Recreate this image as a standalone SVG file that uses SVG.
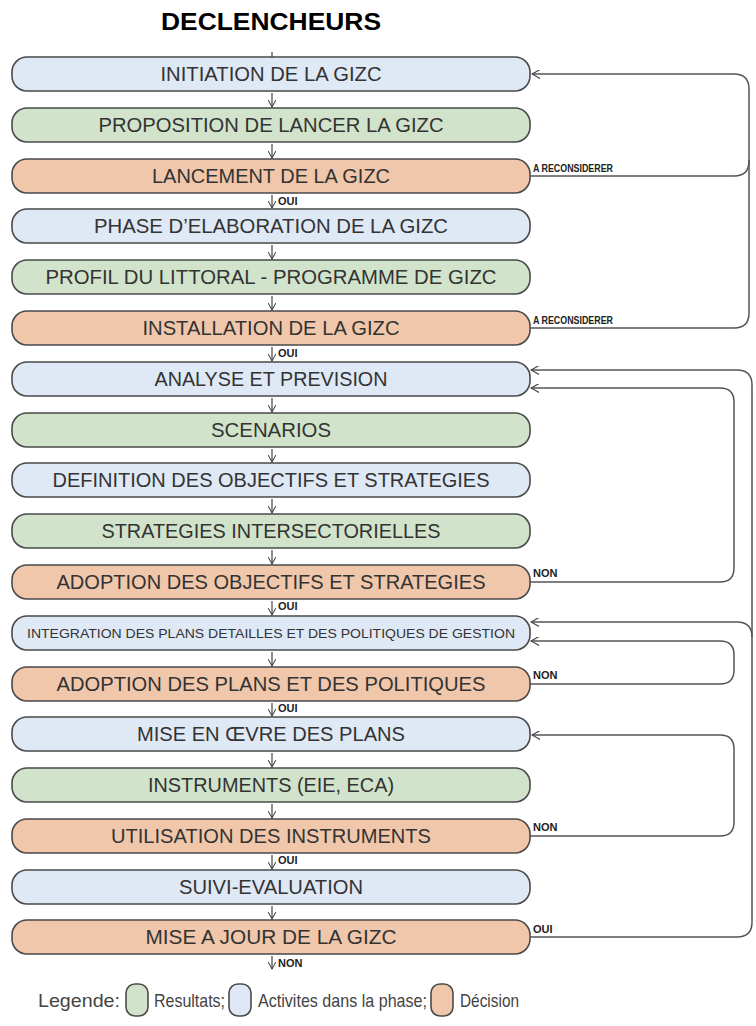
<svg xmlns="http://www.w3.org/2000/svg" width="756" height="1026" viewBox="0 0 756 1026">
<defs>
<style>
.box{stroke:#4a4a4a;stroke-width:1.6}
.act{fill:#dfe8f5}
.res{fill:#d2e3cb}
.dec{fill:#f0c7ab}
.t{font-family:"Liberation Sans Narrow","Liberation Sans",Arial,sans-serif;font-size:20px;fill:#333;text-anchor:middle}
.lbl{font-family:"Liberation Sans Narrow","Liberation Sans",Arial,sans-serif;font-size:11px;font-weight:bold;fill:#222}
.title{font-family:"Liberation Sans",Arial,sans-serif;font-size:23px;font-weight:bold;fill:#000;text-anchor:middle}
.leg{font-family:"Liberation Sans Narrow","Liberation Sans",Arial,sans-serif;font-size:19px;fill:#444}
.conn{fill:none;stroke:#555;stroke-width:1.5}
.down{fill:none;stroke:#444;stroke-width:1.2}
</style>
<marker id="open" viewBox="0 0 10 10" refX="9" refY="5" markerWidth="9" markerHeight="9" orient="auto" markerUnits="userSpaceOnUse">
<path d="M0,0 L9,5 L0,10" fill="none" stroke="#444" stroke-width="1.3"/>
</marker>
<marker id="dn" viewBox="0 0 10 10" refX="9" refY="5" markerWidth="8" markerHeight="8" orient="auto" markerUnits="userSpaceOnUse">
<path d="M0,0 L9,5 L0,10" fill="none" stroke="#444" stroke-width="1.3"/>
</marker>
</defs>
<rect width="756" height="1026" fill="#fff"/>
<text class="title" x="271" y="30" textLength="220" lengthAdjust="spacingAndGlyphs">DECLENCHEURS</text>

<g id="n1"><rect class="box act" x="12" y="57" width="518" height="34" rx="15"/><text class="t" x="271" y="81" textLength="221" lengthAdjust="spacingAndGlyphs">INITIATION DE LA GIZC</text></g>
<g id="n2"><rect class="box res" x="12" y="108" width="518" height="34" rx="15"/><text class="t" x="271" y="132" textLength="345" lengthAdjust="spacingAndGlyphs">PROPOSITION DE LANCER LA GIZC</text></g>
<g id="n3"><rect class="box dec" x="12" y="159" width="518" height="34" rx="15"/><text class="t" x="271" y="183" textLength="238" lengthAdjust="spacingAndGlyphs">LANCEMENT DE LA GIZC</text></g>
<g id="n4"><rect class="box act" x="12" y="209" width="518" height="34" rx="15"/><text class="t" x="271" y="233" textLength="354" lengthAdjust="spacingAndGlyphs">PHASE D’ELABORATION DE LA GIZC</text></g>
<g id="n5"><rect class="box res" x="12" y="260" width="518" height="34" rx="15"/><text class="t" x="271" y="284" textLength="451" lengthAdjust="spacingAndGlyphs">PROFIL DU LITTORAL - PROGRAMME DE GIZC</text></g>
<g id="n6"><rect class="box dec" x="12" y="311" width="518" height="34" rx="15"/><text class="t" x="271" y="335" textLength="257" lengthAdjust="spacingAndGlyphs">INSTALLATION DE LA GIZC</text></g>
<g id="n7"><rect class="box act" x="12" y="362" width="518" height="34" rx="15"/><text class="t" x="271" y="386" textLength="233" lengthAdjust="spacingAndGlyphs">ANALYSE ET PREVISION</text></g>
<g id="n8"><rect class="box res" x="12" y="413" width="518" height="34" rx="15"/><text class="t" x="271" y="437" textLength="120" lengthAdjust="spacingAndGlyphs">SCENARIOS</text></g>
<g id="n9"><rect class="box act" x="12" y="463" width="518" height="34" rx="15"/><text class="t" x="271" y="487" textLength="437" lengthAdjust="spacingAndGlyphs">DEFINITION DES OBJECTIFS ET STRATEGIES</text></g>
<g id="n10"><rect class="box res" x="12" y="514" width="518" height="34" rx="15"/><text class="t" x="271" y="538" textLength="339" lengthAdjust="spacingAndGlyphs">STRATEGIES INTERSECTORIELLES</text></g>
<g id="n11"><rect class="box dec" x="12" y="565" width="518" height="34" rx="15"/><text class="t" x="271" y="589" textLength="429" lengthAdjust="spacingAndGlyphs">ADOPTION DES OBJECTIFS ET STRATEGIES</text></g>
<g id="n12"><rect class="box act" x="12" y="616" width="518" height="34" rx="15"/><text class="t" x="271" y="638" style="font-size:13.5px" textLength="488" lengthAdjust="spacingAndGlyphs">INTEGRATION DES PLANS DETAILLES ET DES POLITIQUES DE GESTION</text></g>
<g id="n13"><rect class="box dec" x="12" y="667" width="518" height="34" rx="15"/><text class="t" x="271" y="691" textLength="429" lengthAdjust="spacingAndGlyphs">ADOPTION DES PLANS ET DES POLITIQUES</text></g>
<g id="n14"><rect class="box act" x="12" y="717" width="518" height="34" rx="15"/><text class="t" x="271" y="741" textLength="268" lengthAdjust="spacingAndGlyphs">MISE EN ŒVRE DES PLANS</text></g>
<g id="n15"><rect class="box res" x="12" y="768" width="518" height="34" rx="15"/><text class="t" x="271" y="792" textLength="246" lengthAdjust="spacingAndGlyphs">INSTRUMENTS (EIE, ECA)</text></g>
<g id="n16"><rect class="box dec" x="12" y="819" width="518" height="34" rx="15"/><text class="t" x="271" y="843" textLength="320" lengthAdjust="spacingAndGlyphs">UTILISATION DES INSTRUMENTS</text></g>
<g id="n17"><rect class="box act" x="12" y="870" width="518" height="34" rx="15"/><text class="t" x="271" y="894" textLength="184" lengthAdjust="spacingAndGlyphs">SUIVI-EVALUATION</text></g>
<g id="n18"><rect class="box dec" x="12" y="920" width="518" height="34" rx="15"/><text class="t" x="271" y="944" textLength="251" lengthAdjust="spacingAndGlyphs">MISE A JOUR DE LA GIZC</text></g>

<g id="connectors">
<path class="down" d="M272,52 V57"/>
<path class="down" d="M272,93 V107" marker-end="url(#dn)"/>
<path class="down" d="M272,144 V158" marker-end="url(#dn)"/>
<path class="down" d="M272,195 V208" marker-end="url(#dn)"/>
<path class="down" d="M272,245 V259" marker-end="url(#dn)"/>
<path class="down" d="M272,296 V310" marker-end="url(#dn)"/>
<path class="down" d="M272,347 V361" marker-end="url(#dn)"/>
<path class="down" d="M272,398 V412" marker-end="url(#dn)"/>
<path class="down" d="M272,449 V462" marker-end="url(#dn)"/>
<path class="down" d="M272,499 V513" marker-end="url(#dn)"/>
<path class="down" d="M272,550 V564" marker-end="url(#dn)"/>
<path class="down" d="M272,601 V615" marker-end="url(#dn)"/>
<path class="down" d="M272,652 V666" marker-end="url(#dn)"/>
<path class="down" d="M272,703 V716" marker-end="url(#dn)"/>
<path class="down" d="M272,753 V767" marker-end="url(#dn)"/>
<path class="down" d="M272,804 V818" marker-end="url(#dn)"/>
<path class="down" d="M272,855 V869" marker-end="url(#dn)"/>
<path class="down" d="M272,906 V919" marker-end="url(#dn)"/>
<path class="down" d="M272,956 V969" marker-end="url(#dn)"/>

<path class="conn" d="M530,176 H734 Q749,176 749,161 V89 Q749,74 734,74 H532" marker-end="url(#open)"/>
<path class="conn" d="M530,328 H734 Q749,328 749,313 V160"/>
<path class="conn" d="M530,937 H737 Q752,937 752,922 V385 Q752,370 737,370 H531" marker-end="url(#open)"/>
<path class="conn" d="M752,637 Q752,622 737,622 H531" marker-end="url(#open)"/>
<path class="conn" d="M530,582 H720 Q734,582 734,568 V402 Q734,388 720,388 H531" marker-end="url(#open)"/>
<path class="conn" d="M530,684 H720 Q734,684 734,670 V655 Q734,641 720,641 H531" marker-end="url(#open)"/>
<path class="conn" d="M530,836 H720 Q734,836 734,822 V749 Q734,735 720,735 H532" marker-end="url(#open)"/>

<text class="lbl" x="533" y="172" textLength="80" lengthAdjust="spacingAndGlyphs">A RECONSIDERER</text>
<text class="lbl" x="533" y="324" textLength="80" lengthAdjust="spacingAndGlyphs">A RECONSIDERER</text>
<text class="lbl" x="533" y="577">NON</text>
<text class="lbl" x="533" y="679">NON</text>
<text class="lbl" x="533" y="831">NON</text>
<text class="lbl" x="533" y="933">OUI</text>
<text class="lbl" x="278" y="205">OUI</text>
<text class="lbl" x="278" y="357">OUI</text>
<text class="lbl" x="278" y="610">OUI</text>
<text class="lbl" x="278" y="712">OUI</text>
<text class="lbl" x="278" y="864">OUI</text>
<text class="lbl" x="278" y="967">NON</text>
</g>

<g id="legend">
<text class="leg" x="38" y="1007" textLength="82" lengthAdjust="spacingAndGlyphs">Legende:</text>
<rect class="box res" x="126" y="984" width="22" height="32" rx="9"/>
<text class="leg" x="154" y="1007" textLength="71" lengthAdjust="spacingAndGlyphs">Resultats;</text>
<rect class="box act" x="229" y="984" width="22" height="32" rx="9"/>
<text class="leg" x="258" y="1007" textLength="169" lengthAdjust="spacingAndGlyphs">Activites dans la phase;</text>
<rect class="box dec" x="431" y="984" width="22" height="32" rx="9"/>
<text class="leg" x="460" y="1007" textLength="59" lengthAdjust="spacingAndGlyphs">Décision</text>
</g>
</svg>
